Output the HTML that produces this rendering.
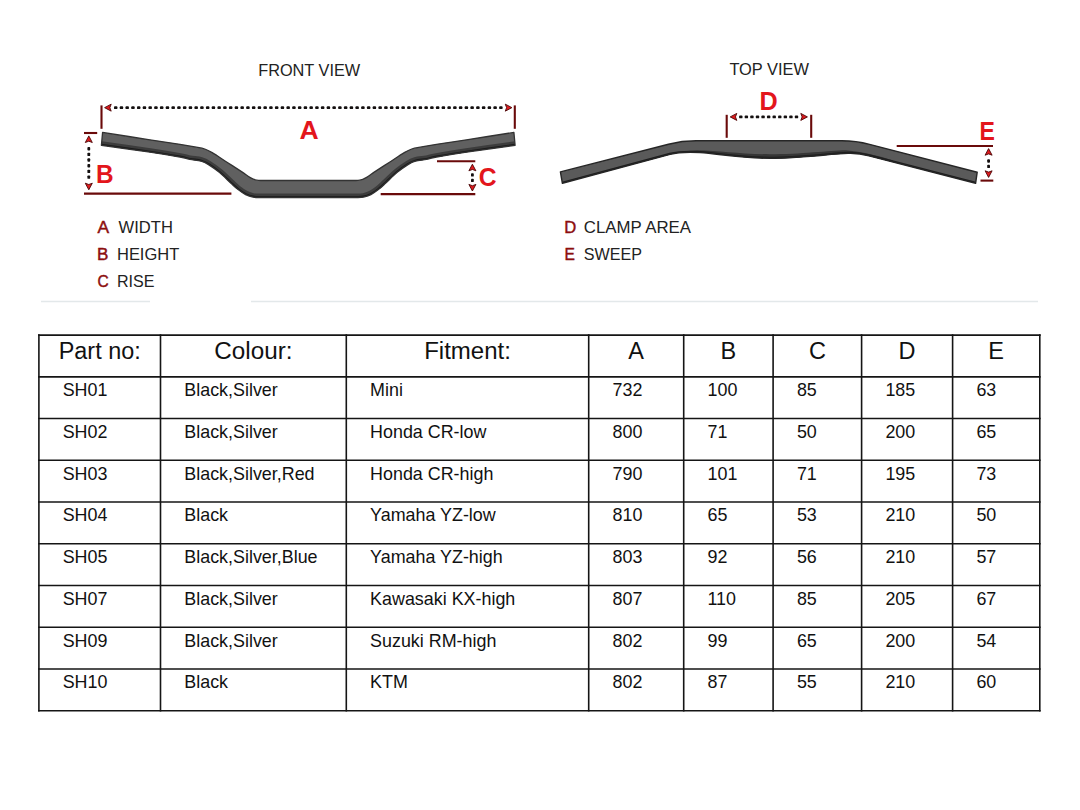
<!DOCTYPE html>
<html><head><meta charset="utf-8">
<style>
html,body{margin:0;padding:0;background:#fff;width:1080px;height:810px;overflow:hidden}
svg{display:block;font-family:"Liberation Sans",sans-serif}
</style></head><body>
<svg width="1080" height="810" viewBox="0 0 1080 810">
<rect width="1080" height="810" fill="#fff"/>

<g stroke="#e3e8ea" stroke-width="1.5">
<line x1="41" y1="301.5" x2="150" y2="301.5"/>
<line x1="251" y1="301.5" x2="1038" y2="301.5"/>
</g>
<g font-size="17.2">
<text x="258.2" y="75.6" fill="#222" textLength="102" lengthAdjust="spacingAndGlyphs">FRONT VIEW</text>
<text x="729.4" y="75.3" fill="#222" textLength="79.6" lengthAdjust="spacingAndGlyphs">TOP VIEW</text>
</g>
<g font-size="17.0">
<text x="97.4" y="232.8" fill="#8c0e0e" textLength="11.6" lengthAdjust="spacingAndGlyphs" stroke="#8c0e0e" stroke-width="0.45">A</text><text x="118.6" y="232.8" fill="#222" textLength="54.3" lengthAdjust="spacingAndGlyphs">WIDTH</text>
<text x="97.0" y="259.8" fill="#8c0e0e" textLength="11.4" lengthAdjust="spacingAndGlyphs" stroke="#8c0e0e" stroke-width="0.45">B</text><text x="117.0" y="259.8" fill="#222" textLength="62.2" lengthAdjust="spacingAndGlyphs">HEIGHT</text>
<text x="97.4" y="286.7" fill="#8c0e0e" textLength="11.2" lengthAdjust="spacingAndGlyphs" stroke="#8c0e0e" stroke-width="0.45">C</text><text x="117.0" y="286.7" fill="#222" textLength="37.5" lengthAdjust="spacingAndGlyphs">RISE</text>
<text x="564.3" y="232.5" fill="#8c0e0e" textLength="12.0" lengthAdjust="spacingAndGlyphs" stroke="#8c0e0e" stroke-width="0.45">D</text><text x="583.8" y="232.5" fill="#222" textLength="107.2" lengthAdjust="spacingAndGlyphs">CLAMP AREA</text>
<text x="564.4" y="259.7" fill="#8c0e0e" textLength="10.4" lengthAdjust="spacingAndGlyphs" stroke="#8c0e0e" stroke-width="0.45">E</text><text x="583.8" y="259.7" fill="#222" textLength="58.2" lengthAdjust="spacingAndGlyphs">SWEEP</text>
</g>
<defs>
<clipPath id="fc"><path d="M102.60,132.40 C110.50,133.63 137.10,137.82 150.00,139.80 C162.90,141.78 172.50,143.12 180.00,144.30 C187.50,145.48 190.87,146.12 195.00,146.90 C199.13,147.68 201.93,148.05 204.80,149.00 C207.67,149.95 208.50,150.40 212.20,152.60 C215.90,154.80 222.05,158.98 227.00,162.20 C231.95,165.42 238.02,169.33 241.90,171.90 C245.78,174.47 247.83,176.22 250.30,177.60 C252.77,178.98 254.25,179.72 256.70,180.20 C259.15,180.68 259.45,180.45 265.00,180.50 C270.55,180.55 279.75,180.50 290.00,180.50 C300.25,180.50 316.25,180.50 326.50,180.50 C336.75,180.50 345.95,180.55 351.50,180.50 C357.05,180.45 357.35,180.68 359.80,180.20 C362.25,179.72 363.73,178.98 366.20,177.60 C368.67,176.22 370.72,174.47 374.60,171.90 C378.48,169.33 384.55,165.42 389.50,162.20 C394.45,158.98 400.60,154.80 404.30,152.60 C408.00,150.40 408.83,149.95 411.70,149.00 C414.57,148.05 417.37,147.68 421.50,146.90 C425.63,146.12 429.00,145.48 436.50,144.30 C444.00,143.12 453.60,141.78 466.50,139.80 C479.40,137.82 506.00,133.63 513.90,132.40 L515.10,145.30 C507.00,146.45 479.60,150.23 466.50,152.20 C453.40,154.17 443.17,155.90 436.50,157.10 C429.83,158.30 430.02,158.72 426.50,159.40 C422.98,160.08 418.48,160.33 415.40,161.20 C412.32,162.07 411.08,162.70 408.00,164.60 C404.92,166.50 400.60,169.53 396.90,172.60 C393.20,175.67 388.88,180.17 385.80,183.00 C382.72,185.83 380.88,187.67 378.40,189.60 C375.92,191.53 373.38,193.35 370.90,194.60 C368.42,195.85 366.23,196.62 363.50,197.10 C360.77,197.58 360.67,197.43 354.50,197.50 C348.33,197.57 337.25,197.50 326.50,197.50 C315.75,197.50 300.75,197.50 290.00,197.50 C279.25,197.50 268.17,197.57 262.00,197.50 C255.83,197.43 255.73,197.58 253.00,197.10 C250.27,196.62 248.08,195.85 245.60,194.60 C243.12,193.35 240.58,191.53 238.10,189.60 C235.62,187.67 233.78,185.83 230.70,183.00 C227.62,180.17 223.30,175.67 219.60,172.60 C215.90,169.53 211.58,166.50 208.50,164.60 C205.42,162.70 204.18,162.07 201.10,161.20 C198.02,160.33 193.52,160.08 190.00,159.40 C186.48,158.72 186.67,158.30 180.00,157.10 C173.33,155.90 163.10,154.17 150.00,152.20 C136.90,150.23 109.50,146.45 101.40,145.30 Z"/></clipPath>
<clipPath id="tc"><path d="M560.40,171.90 L668.44,144.27 Q682.00,140.80 696.00,140.80 L842.00,140.80 Q856.00,140.80 869.55,144.31 L977.20,172.20 L975.6,183.3 L869,155.9 Q858.6,153 848,153.4 C830,154 800,158.3 770,158.3 C740,158.3 720,154 700,152.6 Q681,151.5 670,154.4 L562.4,183.3 Z"/></clipPath>
</defs>
<path d="M102.60,132.40 C110.50,133.63 137.10,137.82 150.00,139.80 C162.90,141.78 172.50,143.12 180.00,144.30 C187.50,145.48 190.87,146.12 195.00,146.90 C199.13,147.68 201.93,148.05 204.80,149.00 C207.67,149.95 208.50,150.40 212.20,152.60 C215.90,154.80 222.05,158.98 227.00,162.20 C231.95,165.42 238.02,169.33 241.90,171.90 C245.78,174.47 247.83,176.22 250.30,177.60 C252.77,178.98 254.25,179.72 256.70,180.20 C259.15,180.68 259.45,180.45 265.00,180.50 C270.55,180.55 279.75,180.50 290.00,180.50 C300.25,180.50 316.25,180.50 326.50,180.50 C336.75,180.50 345.95,180.55 351.50,180.50 C357.05,180.45 357.35,180.68 359.80,180.20 C362.25,179.72 363.73,178.98 366.20,177.60 C368.67,176.22 370.72,174.47 374.60,171.90 C378.48,169.33 384.55,165.42 389.50,162.20 C394.45,158.98 400.60,154.80 404.30,152.60 C408.00,150.40 408.83,149.95 411.70,149.00 C414.57,148.05 417.37,147.68 421.50,146.90 C425.63,146.12 429.00,145.48 436.50,144.30 C444.00,143.12 453.60,141.78 466.50,139.80 C479.40,137.82 506.00,133.63 513.90,132.40 L515.10,145.30 C507.00,146.45 479.60,150.23 466.50,152.20 C453.40,154.17 443.17,155.90 436.50,157.10 C429.83,158.30 430.02,158.72 426.50,159.40 C422.98,160.08 418.48,160.33 415.40,161.20 C412.32,162.07 411.08,162.70 408.00,164.60 C404.92,166.50 400.60,169.53 396.90,172.60 C393.20,175.67 388.88,180.17 385.80,183.00 C382.72,185.83 380.88,187.67 378.40,189.60 C375.92,191.53 373.38,193.35 370.90,194.60 C368.42,195.85 366.23,196.62 363.50,197.10 C360.77,197.58 360.67,197.43 354.50,197.50 C348.33,197.57 337.25,197.50 326.50,197.50 C315.75,197.50 300.75,197.50 290.00,197.50 C279.25,197.50 268.17,197.57 262.00,197.50 C255.83,197.43 255.73,197.58 253.00,197.10 C250.27,196.62 248.08,195.85 245.60,194.60 C243.12,193.35 240.58,191.53 238.10,189.60 C235.62,187.67 233.78,185.83 230.70,183.00 C227.62,180.17 223.30,175.67 219.60,172.60 C215.90,169.53 211.58,166.50 208.50,164.60 C205.42,162.70 204.18,162.07 201.10,161.20 C198.02,160.33 193.52,160.08 190.00,159.40 C186.48,158.72 186.67,158.30 180.00,157.10 C173.33,155.90 163.10,154.17 150.00,152.20 C136.90,150.23 109.50,146.45 101.40,145.30 Z" fill="#606060"/>
<g clip-path="url(#fc)">
<path d="M101.40,145.30 C109.50,146.45 136.90,150.23 150.00,152.20 C163.10,154.17 173.33,155.90 180.00,157.10 C186.67,158.30 186.48,158.72 190.00,159.40 C193.52,160.08 198.02,160.33 201.10,161.20 C204.18,162.07 205.42,162.70 208.50,164.60 C211.58,166.50 215.90,169.53 219.60,172.60 C223.30,175.67 227.62,180.17 230.70,183.00 C233.78,185.83 235.62,187.67 238.10,189.60 C240.58,191.53 243.12,193.35 245.60,194.60 C248.08,195.85 250.27,196.62 253.00,197.10 C255.73,197.58 255.83,197.43 262.00,197.50 C268.17,197.57 279.25,197.50 290.00,197.50 C300.75,197.50 315.75,197.50 326.50,197.50 C337.25,197.50 348.33,197.57 354.50,197.50 C360.67,197.43 360.77,197.58 363.50,197.10 C366.23,196.62 368.42,195.85 370.90,194.60 C373.38,193.35 375.92,191.53 378.40,189.60 C380.88,187.67 382.72,185.83 385.80,183.00 C388.88,180.17 393.20,175.67 396.90,172.60 C400.60,169.53 404.92,166.50 408.00,164.60 C411.08,162.70 412.32,162.07 415.40,161.20 C418.48,160.33 422.98,160.08 426.50,159.40 C430.02,158.72 429.83,158.30 436.50,157.10 C443.17,155.90 453.40,154.17 466.50,152.20 C479.60,150.23 507.00,146.45 515.10,145.30" fill="none" stroke="#3c3c3c" stroke-width="8"/>
<path d="M101.40,145.30 C109.50,146.45 136.90,150.23 150.00,152.20 C163.10,154.17 173.33,155.90 180.00,157.10 C186.67,158.30 186.48,158.72 190.00,159.40 C193.52,160.08 198.02,160.33 201.10,161.20 C204.18,162.07 205.42,162.70 208.50,164.60 C211.58,166.50 215.90,169.53 219.60,172.60 C223.30,175.67 227.62,180.17 230.70,183.00 C233.78,185.83 235.62,187.67 238.10,189.60 C240.58,191.53 243.12,193.35 245.60,194.60 C248.08,195.85 250.27,196.62 253.00,197.10 C255.73,197.58 255.83,197.43 262.00,197.50 C268.17,197.57 279.25,197.50 290.00,197.50 C300.75,197.50 315.75,197.50 326.50,197.50 C337.25,197.50 348.33,197.57 354.50,197.50 C360.67,197.43 360.77,197.58 363.50,197.10 C366.23,196.62 368.42,195.85 370.90,194.60 C373.38,193.35 375.92,191.53 378.40,189.60 C380.88,187.67 382.72,185.83 385.80,183.00 C388.88,180.17 393.20,175.67 396.90,172.60 C400.60,169.53 404.92,166.50 408.00,164.60 C411.08,162.70 412.32,162.07 415.40,161.20 C418.48,160.33 422.98,160.08 426.50,159.40 C430.02,158.72 429.83,158.30 436.50,157.10 C443.17,155.90 453.40,154.17 466.50,152.20 C479.60,150.23 507.00,146.45 515.10,145.30" fill="none" stroke="#1c1c1c" stroke-width="3"/>
</g>
<path d="M102.60,132.40 C110.50,133.63 137.10,137.82 150.00,139.80 C162.90,141.78 172.50,143.12 180.00,144.30 C187.50,145.48 190.87,146.12 195.00,146.90 C199.13,147.68 201.93,148.05 204.80,149.00 C207.67,149.95 208.50,150.40 212.20,152.60 C215.90,154.80 222.05,158.98 227.00,162.20 C231.95,165.42 238.02,169.33 241.90,171.90 C245.78,174.47 247.83,176.22 250.30,177.60 C252.77,178.98 254.25,179.72 256.70,180.20 C259.15,180.68 259.45,180.45 265.00,180.50 C270.55,180.55 279.75,180.50 290.00,180.50 C300.25,180.50 316.25,180.50 326.50,180.50 C336.75,180.50 345.95,180.55 351.50,180.50 C357.05,180.45 357.35,180.68 359.80,180.20 C362.25,179.72 363.73,178.98 366.20,177.60 C368.67,176.22 370.72,174.47 374.60,171.90 C378.48,169.33 384.55,165.42 389.50,162.20 C394.45,158.98 400.60,154.80 404.30,152.60 C408.00,150.40 408.83,149.95 411.70,149.00 C414.57,148.05 417.37,147.68 421.50,146.90 C425.63,146.12 429.00,145.48 436.50,144.30 C444.00,143.12 453.60,141.78 466.50,139.80 C479.40,137.82 506.00,133.63 513.90,132.40 L515.10,145.30 C507.00,146.45 479.60,150.23 466.50,152.20 C453.40,154.17 443.17,155.90 436.50,157.10 C429.83,158.30 430.02,158.72 426.50,159.40 C422.98,160.08 418.48,160.33 415.40,161.20 C412.32,162.07 411.08,162.70 408.00,164.60 C404.92,166.50 400.60,169.53 396.90,172.60 C393.20,175.67 388.88,180.17 385.80,183.00 C382.72,185.83 380.88,187.67 378.40,189.60 C375.92,191.53 373.38,193.35 370.90,194.60 C368.42,195.85 366.23,196.62 363.50,197.10 C360.77,197.58 360.67,197.43 354.50,197.50 C348.33,197.57 337.25,197.50 326.50,197.50 C315.75,197.50 300.75,197.50 290.00,197.50 C279.25,197.50 268.17,197.57 262.00,197.50 C255.83,197.43 255.73,197.58 253.00,197.10 C250.27,196.62 248.08,195.85 245.60,194.60 C243.12,193.35 240.58,191.53 238.10,189.60 C235.62,187.67 233.78,185.83 230.70,183.00 C227.62,180.17 223.30,175.67 219.60,172.60 C215.90,169.53 211.58,166.50 208.50,164.60 C205.42,162.70 204.18,162.07 201.10,161.20 C198.02,160.33 193.52,160.08 190.00,159.40 C186.48,158.72 186.67,158.30 180.00,157.10 C173.33,155.90 163.10,154.17 150.00,152.20 C136.90,150.23 109.50,146.45 101.40,145.30 Z" fill="none" stroke="#333" stroke-width="1.3" stroke-linejoin="round"/>
<path d="M560.40,171.90 L668.44,144.27 Q682.00,140.80 696.00,140.80 L842.00,140.80 Q856.00,140.80 869.55,144.31 L977.20,172.20 L975.6,183.3 L869,155.9 Q858.6,153 848,153.4 C830,154 800,158.3 770,158.3 C740,158.3 720,154 700,152.6 Q681,151.5 670,154.4 L562.4,183.3 Z" fill="#5a5a5a"/>
<g clip-path="url(#tc)">
<path d="M645,185 L648,160 Q676,151.5 697,150.2 C720,150.5 740,154.2 770,154.2 C800,154.2 830,150.5 846,150.2 Q866,151.5 893,160.5 L896,185 Z" fill="#363636"/>
<path d="M562.4,183.3 L670,154.4 Q681,151.5 700,152.6 C720,154 740,158.3 770,158.3 C800,158.3 830,154 848,153.4 Q858.6,153 869,155.9 L975.6,183.3" fill="none" stroke="#1e1e1e" stroke-width="3.2"/>
</g>
<path d="M560.40,171.90 L668.44,144.27 Q682.00,140.80 696.00,140.80 L842.00,140.80 Q856.00,140.80 869.55,144.31 L977.20,172.20 L975.6,183.3 L869,155.9 Q858.6,153 848,153.4 C830,154 800,158.3 770,158.3 C740,158.3 720,154 700,152.6 Q681,151.5 670,154.4 L562.4,183.3 Z" fill="none" stroke="#262626" stroke-width="1.4" stroke-linejoin="round"/>
<g stroke="#6a0a0a" stroke-width="2.1" fill="none">
<line x1="101.5" y1="105.4" x2="101.5" y2="128.8"/>
<line x1="514.8" y1="105.4" x2="514.8" y2="128.8"/>
<line x1="84" y1="133" x2="97.2" y2="133"/>
<line x1="84" y1="193.6" x2="231.4" y2="193.6"/>
<line x1="437" y1="161.2" x2="475.3" y2="161.2"/>
<line x1="380.7" y1="194.1" x2="475.3" y2="194.1"/>
<line x1="726.7" y1="114.8" x2="726.7" y2="137.8"/>
<line x1="811.2" y1="114.8" x2="811.2" y2="137.8"/>
<line x1="896.7" y1="146" x2="993" y2="146"/>
<line x1="980.5" y1="180.6" x2="993.3" y2="180.6"/>
</g>
<g fill="#141010"><rect x="114.00" y="106.25" width="3.4" height="2.8" rx="0.9"/><rect x="119.75" y="106.25" width="3.4" height="2.8" rx="0.9"/><rect x="125.50" y="106.25" width="3.4" height="2.8" rx="0.9"/><rect x="131.25" y="106.25" width="3.4" height="2.8" rx="0.9"/><rect x="137.00" y="106.25" width="3.4" height="2.8" rx="0.9"/><rect x="142.75" y="106.25" width="3.4" height="2.8" rx="0.9"/><rect x="148.49" y="106.25" width="3.4" height="2.8" rx="0.9"/><rect x="154.24" y="106.25" width="3.4" height="2.8" rx="0.9"/><rect x="159.99" y="106.25" width="3.4" height="2.8" rx="0.9"/><rect x="165.74" y="106.25" width="3.4" height="2.8" rx="0.9"/><rect x="171.49" y="106.25" width="3.4" height="2.8" rx="0.9"/><rect x="177.24" y="106.25" width="3.4" height="2.8" rx="0.9"/><rect x="182.99" y="106.25" width="3.4" height="2.8" rx="0.9"/><rect x="188.74" y="106.25" width="3.4" height="2.8" rx="0.9"/><rect x="194.49" y="106.25" width="3.4" height="2.8" rx="0.9"/><rect x="200.23" y="106.25" width="3.4" height="2.8" rx="0.9"/><rect x="205.98" y="106.25" width="3.4" height="2.8" rx="0.9"/><rect x="211.73" y="106.25" width="3.4" height="2.8" rx="0.9"/><rect x="217.48" y="106.25" width="3.4" height="2.8" rx="0.9"/><rect x="223.23" y="106.25" width="3.4" height="2.8" rx="0.9"/><rect x="228.98" y="106.25" width="3.4" height="2.8" rx="0.9"/><rect x="234.73" y="106.25" width="3.4" height="2.8" rx="0.9"/><rect x="240.48" y="106.25" width="3.4" height="2.8" rx="0.9"/><rect x="246.23" y="106.25" width="3.4" height="2.8" rx="0.9"/><rect x="251.98" y="106.25" width="3.4" height="2.8" rx="0.9"/><rect x="257.72" y="106.25" width="3.4" height="2.8" rx="0.9"/><rect x="263.47" y="106.25" width="3.4" height="2.8" rx="0.9"/><rect x="269.22" y="106.25" width="3.4" height="2.8" rx="0.9"/><rect x="274.97" y="106.25" width="3.4" height="2.8" rx="0.9"/><rect x="280.72" y="106.25" width="3.4" height="2.8" rx="0.9"/><rect x="286.47" y="106.25" width="3.4" height="2.8" rx="0.9"/><rect x="292.22" y="106.25" width="3.4" height="2.8" rx="0.9"/><rect x="297.97" y="106.25" width="3.4" height="2.8" rx="0.9"/><rect x="303.72" y="106.25" width="3.4" height="2.8" rx="0.9"/><rect x="309.47" y="106.25" width="3.4" height="2.8" rx="0.9"/><rect x="315.22" y="106.25" width="3.4" height="2.8" rx="0.9"/><rect x="320.96" y="106.25" width="3.4" height="2.8" rx="0.9"/><rect x="326.71" y="106.25" width="3.4" height="2.8" rx="0.9"/><rect x="332.46" y="106.25" width="3.4" height="2.8" rx="0.9"/><rect x="338.21" y="106.25" width="3.4" height="2.8" rx="0.9"/><rect x="343.96" y="106.25" width="3.4" height="2.8" rx="0.9"/><rect x="349.71" y="106.25" width="3.4" height="2.8" rx="0.9"/><rect x="355.46" y="106.25" width="3.4" height="2.8" rx="0.9"/><rect x="361.21" y="106.25" width="3.4" height="2.8" rx="0.9"/><rect x="366.96" y="106.25" width="3.4" height="2.8" rx="0.9"/><rect x="372.71" y="106.25" width="3.4" height="2.8" rx="0.9"/><rect x="378.45" y="106.25" width="3.4" height="2.8" rx="0.9"/><rect x="384.20" y="106.25" width="3.4" height="2.8" rx="0.9"/><rect x="389.95" y="106.25" width="3.4" height="2.8" rx="0.9"/><rect x="395.70" y="106.25" width="3.4" height="2.8" rx="0.9"/><rect x="401.45" y="106.25" width="3.4" height="2.8" rx="0.9"/><rect x="407.20" y="106.25" width="3.4" height="2.8" rx="0.9"/><rect x="412.95" y="106.25" width="3.4" height="2.8" rx="0.9"/><rect x="418.70" y="106.25" width="3.4" height="2.8" rx="0.9"/><rect x="424.45" y="106.25" width="3.4" height="2.8" rx="0.9"/><rect x="430.20" y="106.25" width="3.4" height="2.8" rx="0.9"/><rect x="435.94" y="106.25" width="3.4" height="2.8" rx="0.9"/><rect x="441.69" y="106.25" width="3.4" height="2.8" rx="0.9"/><rect x="447.44" y="106.25" width="3.4" height="2.8" rx="0.9"/><rect x="453.19" y="106.25" width="3.4" height="2.8" rx="0.9"/><rect x="458.94" y="106.25" width="3.4" height="2.8" rx="0.9"/><rect x="464.69" y="106.25" width="3.4" height="2.8" rx="0.9"/><rect x="470.44" y="106.25" width="3.4" height="2.8" rx="0.9"/><rect x="476.19" y="106.25" width="3.4" height="2.8" rx="0.9"/><rect x="481.94" y="106.25" width="3.4" height="2.8" rx="0.9"/><rect x="487.69" y="106.25" width="3.4" height="2.8" rx="0.9"/><rect x="493.43" y="106.25" width="3.4" height="2.8" rx="0.9"/><rect x="499.18" y="106.25" width="3.4" height="2.8" rx="0.9"/><rect x="739.10" y="115.50" width="3.4" height="2.8" rx="0.9"/><rect x="744.67" y="115.50" width="3.4" height="2.8" rx="0.9"/><rect x="750.24" y="115.50" width="3.4" height="2.8" rx="0.9"/><rect x="755.81" y="115.50" width="3.4" height="2.8" rx="0.9"/><rect x="761.38" y="115.50" width="3.4" height="2.8" rx="0.9"/><rect x="766.95" y="115.50" width="3.4" height="2.8" rx="0.9"/><rect x="772.52" y="115.50" width="3.4" height="2.8" rx="0.9"/><rect x="778.09" y="115.50" width="3.4" height="2.8" rx="0.9"/><rect x="783.66" y="115.50" width="3.4" height="2.8" rx="0.9"/><rect x="789.23" y="115.50" width="3.4" height="2.8" rx="0.9"/><rect x="794.80" y="115.50" width="3.4" height="2.8" rx="0.9"/><rect x="87.40" y="147.00" width="2.8" height="3.4" rx="0.9"/><rect x="87.40" y="152.68" width="2.8" height="3.4" rx="0.9"/><rect x="87.40" y="158.36" width="2.8" height="3.4" rx="0.9"/><rect x="87.40" y="164.04" width="2.8" height="3.4" rx="0.9"/><rect x="87.40" y="169.72" width="2.8" height="3.4" rx="0.9"/><rect x="87.40" y="175.40" width="2.8" height="3.4" rx="0.9"/><rect x="471.00" y="173.20" width="2.8" height="3.4" rx="0.9"/><rect x="471.00" y="178.70" width="2.8" height="3.4" rx="0.9"/><rect x="987.20" y="159.30" width="2.8" height="3.4" rx="0.9"/><rect x="987.20" y="164.70" width="2.8" height="3.4" rx="0.9"/></g>
<g fill="#e01a1e" stroke="#4a0707" stroke-width="0.9" stroke-linejoin="round"><path d="M104.60,107.65 L111.20,104.15 L109.88,107.65 L111.20,111.15 Z"/><path d="M511.90,107.65 L505.30,111.15 L506.62,107.65 L505.30,104.15 Z"/><path d="M730.20,116.90 L736.80,113.40 L735.48,116.90 L736.80,120.40 Z"/><path d="M807.40,116.90 L800.80,120.40 L802.12,116.90 L800.80,113.40 Z"/><path d="M88.80,135.90 L92.30,142.50 L88.80,141.18 L85.30,142.50 Z"/><path d="M88.80,189.80 L85.30,183.20 L88.80,184.52 L92.30,183.20 Z"/><path d="M472.40,164.20 L475.90,170.80 L472.40,169.48 L468.90,170.80 Z"/><path d="M472.40,191.00 L468.90,184.40 L472.40,185.72 L475.90,184.40 Z"/><path d="M988.60,148.60 L992.10,155.20 L988.60,153.88 L985.10,155.20 Z"/><path d="M988.60,177.40 L985.10,170.80 L988.60,172.12 L992.10,170.80 Z"/></g>
<g font-size="25.5" font-weight="bold" fill="#e3161c" lengthAdjust="spacingAndGlyphs">
<text x="299.4" y="139.1" textLength="19.2" lengthAdjust="spacingAndGlyphs">A</text>
<text x="96.0" y="183.3" textLength="17.6" lengthAdjust="spacingAndGlyphs">B</text>
<text x="478.8" y="185.9" textLength="17.8" lengthAdjust="spacingAndGlyphs">C</text>
<text x="759.4" y="109.7" textLength="18.2" lengthAdjust="spacingAndGlyphs">D</text>
<text x="979.4" y="139.6" textLength="15.4" lengthAdjust="spacingAndGlyphs">E</text>
</g>

<g stroke="#151515" stroke-width="1.6"><line x1="38.05" y1="335.10" x2="1040.6499999999999" y2="335.10"/><line x1="38.05" y1="376.83" x2="1040.6499999999999" y2="376.83"/><line x1="38.05" y1="418.57" x2="1040.6499999999999" y2="418.57"/><line x1="38.05" y1="460.30" x2="1040.6499999999999" y2="460.30"/><line x1="38.05" y1="502.03" x2="1040.6499999999999" y2="502.03"/><line x1="38.05" y1="543.77" x2="1040.6499999999999" y2="543.77"/><line x1="38.05" y1="585.50" x2="1040.6499999999999" y2="585.50"/><line x1="38.05" y1="627.23" x2="1040.6499999999999" y2="627.23"/><line x1="38.05" y1="668.97" x2="1040.6499999999999" y2="668.97"/><line x1="38.05" y1="710.70" x2="1040.6499999999999" y2="710.70"/><line x1="38.9" y1="334.25" x2="38.9" y2="711.5500000000001"/><line x1="160.5" y1="334.25" x2="160.5" y2="711.5500000000001"/><line x1="346.3" y1="334.25" x2="346.3" y2="711.5500000000001"/><line x1="588.7" y1="334.25" x2="588.7" y2="711.5500000000001"/><line x1="683.7" y1="334.25" x2="683.7" y2="711.5500000000001"/><line x1="773.1" y1="334.25" x2="773.1" y2="711.5500000000001"/><line x1="861.6" y1="334.25" x2="861.6" y2="711.5500000000001"/><line x1="952.6" y1="334.25" x2="952.6" y2="711.5500000000001"/><line x1="1039.8" y1="334.25" x2="1039.8" y2="711.5500000000001"/></g>
<g font-size="23.5" fill="#111"><text x="99.7" y="359.2" text-anchor="middle" textLength="82" lengthAdjust="spacingAndGlyphs">Part no:</text><text x="253.4" y="359.2" text-anchor="middle" textLength="78.2" lengthAdjust="spacingAndGlyphs">Colour:</text><text x="467.5" y="359.2" text-anchor="middle" textLength="86.7" lengthAdjust="spacingAndGlyphs">Fitment:</text><text x="636.2" y="359.2" text-anchor="middle">A</text><text x="728.4" y="359.2" text-anchor="middle">B</text><text x="817.4" y="359.2" text-anchor="middle">C</text><text x="907.1" y="359.2" text-anchor="middle">D</text><text x="996.2" y="359.2" text-anchor="middle">E</text></g>
<g font-size="17.9" fill="#111"><text x="62.7" y="396.13">SH01</text><text x="184.3" y="396.13">Black,Silver</text><text x="370.1" y="396.13">Mini</text><text x="612.5" y="396.13">732</text><text x="707.5" y="396.13">100</text><text x="796.9" y="396.13">85</text><text x="885.4" y="396.13">185</text><text x="976.4" y="396.13">63</text><text x="62.7" y="437.87">SH02</text><text x="184.3" y="437.87">Black,Silver</text><text x="370.1" y="437.87">Honda CR-low</text><text x="612.5" y="437.87">800</text><text x="707.5" y="437.87">71</text><text x="796.9" y="437.87">50</text><text x="885.4" y="437.87">200</text><text x="976.4" y="437.87">65</text><text x="62.7" y="479.60">SH03</text><text x="184.3" y="479.60">Black,Silver,Red</text><text x="370.1" y="479.60">Honda CR-high</text><text x="612.5" y="479.60">790</text><text x="707.5" y="479.60">101</text><text x="796.9" y="479.60">71</text><text x="885.4" y="479.60">195</text><text x="976.4" y="479.60">73</text><text x="62.7" y="521.33">SH04</text><text x="184.3" y="521.33">Black</text><text x="370.1" y="521.33">Yamaha YZ-low</text><text x="612.5" y="521.33">810</text><text x="707.5" y="521.33">65</text><text x="796.9" y="521.33">53</text><text x="885.4" y="521.33">210</text><text x="976.4" y="521.33">50</text><text x="62.7" y="563.07">SH05</text><text x="184.3" y="563.07">Black,Silver,Blue</text><text x="370.1" y="563.07">Yamaha YZ-high</text><text x="612.5" y="563.07">803</text><text x="707.5" y="563.07">92</text><text x="796.9" y="563.07">56</text><text x="885.4" y="563.07">210</text><text x="976.4" y="563.07">57</text><text x="62.7" y="604.80">SH07</text><text x="184.3" y="604.80">Black,Silver</text><text x="370.1" y="604.80">Kawasaki KX-high</text><text x="612.5" y="604.80">807</text><text x="707.5" y="604.80">110</text><text x="796.9" y="604.80">85</text><text x="885.4" y="604.80">205</text><text x="976.4" y="604.80">67</text><text x="62.7" y="646.53">SH09</text><text x="184.3" y="646.53">Black,Silver</text><text x="370.1" y="646.53">Suzuki RM-high</text><text x="612.5" y="646.53">802</text><text x="707.5" y="646.53">99</text><text x="796.9" y="646.53">65</text><text x="885.4" y="646.53">200</text><text x="976.4" y="646.53">54</text><text x="62.7" y="688.27">SH10</text><text x="184.3" y="688.27">Black</text><text x="370.1" y="688.27">KTM</text><text x="612.5" y="688.27">802</text><text x="707.5" y="688.27">87</text><text x="796.9" y="688.27">55</text><text x="885.4" y="688.27">210</text><text x="976.4" y="688.27">60</text></g>
</svg>
</body></html>
